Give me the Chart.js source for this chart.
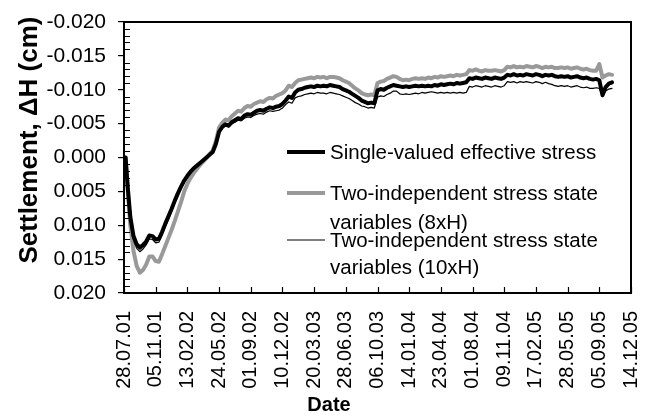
<!DOCTYPE html>
<html><head><meta charset="utf-8">
<script src="https://cdn.jsdelivr.net/npm/chart.js@4.4.0/dist/chart.umd.min.js"></script>
<style>html,body{margin:0;padding:0;background:#fff}canvas{display:block}</style>
</head><body>
<canvas id="c" width="650" height="419"></canvas>
<script>
// ---- data (days since 28.07.2001, settlement in cm; negative = heave, axis reversed) ----
const startDate = Date.UTC(2001, 6, 28);
const days = [5,12,20,30,40,50,60,70,80,90,100,110,120,130,140,150,160,170,180,190,
200,210,220,230,240,250,260,270,280,290,300,310,320,330,340,350,360,370,380,390,
400,410,420,430,440,450,460,470,480,490,500,510,520,530,540,550,560,570,580,590,
600,610,620,630,640,650,660,670,680,690,700,710,720,730,740,750,760,770,780,790,
800,810,820,830,840,850,860,870,880,890,900,910,920,930,940,950,960,970,980,990,
1000,1010,1020,1030,1040,1050,1060,1070,1080,1090,1100,1110,1120,1130,1140,1150,1160,1170,1180,1190,
1200,1210,1220,1230,1240,1250,1260,1270,1280,1290,1300,1310,1320,1330,1340,1350,1360,1370,1380,1390,
1400,1410,1420,1430,1440,1450,1460,1470,1480,1490,1500,1510,1520,1530,1540];
const singleValued = [0.0000,0.0045,0.0088,0.0116,0.0128,0.0133,0.0129,0.0124,0.0115,0.0116,
0.0121,0.0120,0.0110,0.0098,0.0087,0.0076,0.0064,0.0053,0.0043,0.0034,
0.0027,0.0021,0.0016,0.0012,0.0008,0.0004,0.0000,-0.0004,-0.0008,-0.0020,
-0.0038,-0.0045,-0.0049,-0.0047,-0.0052,-0.0055,-0.0058,-0.0057,-0.0062,-0.0064,
-0.0063,-0.0066,-0.0069,-0.0070,-0.0069,-0.0072,-0.0074,-0.0073,-0.0075,-0.0076,
-0.0079,-0.0084,-0.0090,-0.0088,-0.0096,-0.0100,-0.0101,-0.0103,-0.0104,-0.0105,
-0.0104,-0.0106,-0.0105,-0.0106,-0.0105,-0.0107,-0.0106,-0.0105,-0.0104,-0.0101,
-0.0099,-0.0097,-0.0094,-0.0091,-0.0088,-0.0084,-0.0082,-0.0080,-0.0081,-0.0080,
-0.0099,-0.0101,-0.0100,-0.0103,-0.0105,-0.0107,-0.0106,-0.0105,-0.0104,-0.0105,
-0.0104,-0.0105,-0.0106,-0.0105,-0.0106,-0.0105,-0.0106,-0.0105,-0.0107,-0.0106,
-0.0108,-0.0107,-0.0108,-0.0109,-0.0108,-0.0110,-0.0109,-0.0110,-0.0111,-0.0117,
-0.0116,-0.0118,-0.0117,-0.0116,-0.0118,-0.0117,-0.0116,-0.0118,-0.0117,-0.0116,
-0.0118,-0.0122,-0.0121,-0.0123,-0.0121,-0.0122,-0.0121,-0.0123,-0.0122,-0.0121,
-0.0123,-0.0122,-0.0120,-0.0122,-0.0121,-0.0122,-0.0120,-0.0119,-0.0120,-0.0119,
-0.0120,-0.0118,-0.0119,-0.0120,-0.0118,-0.0117,-0.0118,-0.0116,-0.0115,-0.0116,
-0.0114,-0.0092,-0.0104,-0.0109,-0.0111];
const twoIndep8xH = [0.0000,0.0050,0.0100,0.0138,0.0160,0.0170,0.0166,0.0158,0.0146,0.0146,
0.0153,0.0154,0.0143,0.0131,0.0119,0.0107,0.0094,0.0080,0.0066,0.0050,
0.0039,0.0030,0.0023,0.0017,0.0011,0.0006,0.0001,-0.0005,-0.0010,-0.0024,
-0.0044,-0.0051,-0.0056,-0.0055,-0.0061,-0.0065,-0.0069,-0.0068,-0.0073,-0.0076,
-0.0075,-0.0079,-0.0081,-0.0083,-0.0082,-0.0086,-0.0088,-0.0087,-0.0091,-0.0093,
-0.0095,-0.0099,-0.0106,-0.0104,-0.0110,-0.0114,-0.0115,-0.0116,-0.0117,-0.0118,
-0.0117,-0.0119,-0.0118,-0.0119,-0.0117,-0.0119,-0.0119,-0.0118,-0.0117,-0.0114,
-0.0112,-0.0110,-0.0106,-0.0102,-0.0099,-0.0095,-0.0093,-0.0092,-0.0093,-0.0092,
-0.0110,-0.0112,-0.0113,-0.0116,-0.0118,-0.0120,-0.0119,-0.0116,-0.0114,-0.0115,
-0.0114,-0.0116,-0.0117,-0.0116,-0.0117,-0.0116,-0.0118,-0.0117,-0.0119,-0.0118,
-0.0120,-0.0119,-0.0120,-0.0121,-0.0120,-0.0122,-0.0121,-0.0122,-0.0123,-0.0129,
-0.0128,-0.0130,-0.0128,-0.0127,-0.0129,-0.0128,-0.0128,-0.0129,-0.0128,-0.0127,
-0.0129,-0.0134,-0.0133,-0.0135,-0.0133,-0.0134,-0.0133,-0.0135,-0.0134,-0.0133,
-0.0135,-0.0134,-0.0132,-0.0134,-0.0133,-0.0134,-0.0132,-0.0132,-0.0133,-0.0132,
-0.0133,-0.0131,-0.0132,-0.0133,-0.0131,-0.0130,-0.0131,-0.0129,-0.0128,-0.0128,
-0.0138,-0.0118,-0.0121,-0.0123,-0.0122];
const twoIndep10xH = [0.0000,0.0047,0.0092,0.0122,0.0134,0.0139,0.0135,0.0129,0.0120,0.0121,
0.0126,0.0125,0.0115,0.0103,0.0092,0.0080,0.0068,0.0057,0.0046,0.0037,
0.0029,0.0023,0.0017,0.0013,0.0009,0.0005,0.0001,-0.0003,-0.0007,-0.0018,
-0.0036,-0.0043,-0.0047,-0.0045,-0.0050,-0.0052,-0.0055,-0.0054,-0.0058,-0.0060,
-0.0059,-0.0062,-0.0064,-0.0065,-0.0064,-0.0067,-0.0069,-0.0068,-0.0069,-0.0070,
-0.0073,-0.0078,-0.0082,-0.0080,-0.0088,-0.0090,-0.0091,-0.0093,-0.0094,-0.0095,
-0.0094,-0.0096,-0.0095,-0.0095,-0.0094,-0.0096,-0.0095,-0.0094,-0.0093,-0.0091,
-0.0089,-0.0087,-0.0084,-0.0081,-0.0079,-0.0076,-0.0075,-0.0073,-0.0074,-0.0073,
-0.0089,-0.0091,-0.0090,-0.0093,-0.0095,-0.0098,-0.0098,-0.0094,-0.0093,-0.0094,
-0.0093,-0.0094,-0.0095,-0.0094,-0.0096,-0.0095,-0.0096,-0.0097,-0.0096,-0.0095,
-0.0096,-0.0095,-0.0096,-0.0095,-0.0096,-0.0095,-0.0096,-0.0095,-0.0096,-0.0105,
-0.0104,-0.0106,-0.0105,-0.0104,-0.0106,-0.0105,-0.0104,-0.0106,-0.0105,-0.0104,
-0.0106,-0.0112,-0.0111,-0.0112,-0.0110,-0.0112,-0.0111,-0.0112,-0.0111,-0.0110,
-0.0112,-0.0111,-0.0109,-0.0111,-0.0109,-0.0108,-0.0106,-0.0105,-0.0106,-0.0105,
-0.0106,-0.0104,-0.0105,-0.0106,-0.0104,-0.0103,-0.0104,-0.0102,-0.0102,-0.0103,
-0.0102,-0.0090,-0.0098,-0.0101,-0.0102];
const seriesLabels = [
  ['Single-valued effective stress'],
  ['Two-independent stress state', 'variables (8xH)'],
  ['Two-independent stress state', 'variables (10xH)']
];
const xTitle = 'Date';
const yTitle = 'Settlement, \u0394H (cm)';

// ---- helpers ----
const FONT = "'Liberation Sans', Arial, sans-serif";
function fmtDate(d) {
  const dt = new Date(startDate + Math.round(d) * 86400000);
  const p = n => String(n).padStart(2, '0');
  return p(dt.getUTCDate()) + '.' + p(dt.getUTCMonth() + 1) + '.' + p(dt.getUTCFullYear() % 100);
}
const pts = arr => days.map((d, i) => ({x: d, y: arr[i]}));

const decor = {
  id: 'decor',
  afterDatasetsDraw(chart) {
    const {ctx, chartArea: a, scales: {x, y}} = chart;
    ctx.save();
    ctx.strokeStyle = '#000';
    ctx.lineWidth = 1.2;
    ctx.beginPath();
    // inner x ticks
    x.ticks.forEach(t => {
      const px = Math.round(x.getPixelForValue(t.value)) + 0.5;
      ctx.moveTo(px, a.bottom); ctx.lineTo(px, a.bottom - 6);
    });
    // inner y minor ticks every 0.001
    for (let i = -20; i <= 20; i++) {
      if (i % 5 === 0) continue;
      const py = Math.round(y.getPixelForValue(i / 1000)) + 0.5;
      ctx.moveTo(a.left, py); ctx.lineTo(a.left + 6, py);
    }
    ctx.stroke();
    // frame
    ctx.lineWidth = 2;
    ctx.strokeRect(a.left, a.top, a.right - a.left, a.bottom - a.top);
    ctx.restore();
  },
  afterDraw(chart) {
    const {ctx} = chart;
    ctx.save();
    // axis titles
    ctx.fillStyle = '#000';
    ctx.textAlign = 'center';
    ctx.textBaseline = 'middle';
    ctx.font = 'bold 20px ' + FONT;
    ctx.fillText(xTitle, 329, 405);
    ctx.font = 'bold 26px ' + FONT;
    ctx.translate(30, 140);
    ctx.rotate(-Math.PI / 2);
    ctx.fillText(yTitle, 0, 0);
    ctx.restore();
    // legend
    ctx.save();
    ctx.font = '20.5px ' + FONT;
    ctx.textAlign = 'left';
    ctx.textBaseline = 'middle';
    ctx.fillStyle = '#000';
    const ds = chart.data.datasets;
    const rows = [[152], [193, 222], [240, 267]];
    [0, 1, 2].forEach(k => {
      const d = ds[k];
      const ys = rows[k];
      ctx.strokeStyle = d.borderColor;
      ctx.lineWidth = d.borderWidth;
      ctx.beginPath();
      ctx.moveTo(287, ys[0]); ctx.lineTo(325, ys[0]);
      ctx.stroke();
      seriesLabels[k].forEach((s, j) => ctx.fillText(s, 330, ys[j] + 1));
    });
    ctx.restore();
  }
};

new Chart(document.getElementById('c'), {
  type: 'line',
  data: {
    datasets: [
      {label: seriesLabels[0].join(' '), data: pts(singleValued), borderColor: '#000000', borderWidth: 4, order: 1},
      {label: seriesLabels[1].join(' '), data: pts(twoIndep8xH), borderColor: '#999999', borderWidth: 4, order: 2},
      {label: seriesLabels[2].join(' '), data: pts(twoIndep10xH), borderColor: '#000000', borderWidth: 1.2, order: 0}
    ]
  },
  options: {
    responsive: false,
    animation: false,
    devicePixelRatio: 1,
    layout: {padding: {left: 0, top: 22, right: 19, bottom: 0}},
    elements: {point: {radius: 0}, line: {tension: 0, borderJoinStyle: 'round', borderCapStyle: 'round'}},
    plugins: {legend: {display: false}, tooltip: {enabled: false}},
    scales: {
      x: {
        type: 'linear', min: 0, max: 1600,
        grid: {display: false, drawTicks: false},
        border: {display: false},
        ticks: {
          stepSize: 100, autoSkip: false, maxRotation: 90, minRotation: 90,
          padding: 18, color: '#000', font: {family: FONT, size: 20},
          callback: v => fmtDate(v)
        },
        afterFit: s => { s.height = 126; s.paddingLeft = 0; s.paddingRight = 0; }
      },
      y: {
        type: 'linear', reverse: true, min: -0.02, max: 0.02,
        grid: {drawOnChartArea: false, drawTicks: true, tickLength: 6, color: '#000', lineWidth: 1.2},
        border: {display: false},
        ticks: {
          stepSize: 0.005, padding: 12, color: '#000', font: {family: FONT, size: 21},
          callback: v => Math.abs(v) < 1e-9 ? '0.000' : v.toFixed(3)
        },
        afterFit: s => { s.width = 124; s.paddingTop = 0; s.paddingBottom = 0; }
      }
    }
  },
  plugins: [decor]
});
</script>
</body></html>
